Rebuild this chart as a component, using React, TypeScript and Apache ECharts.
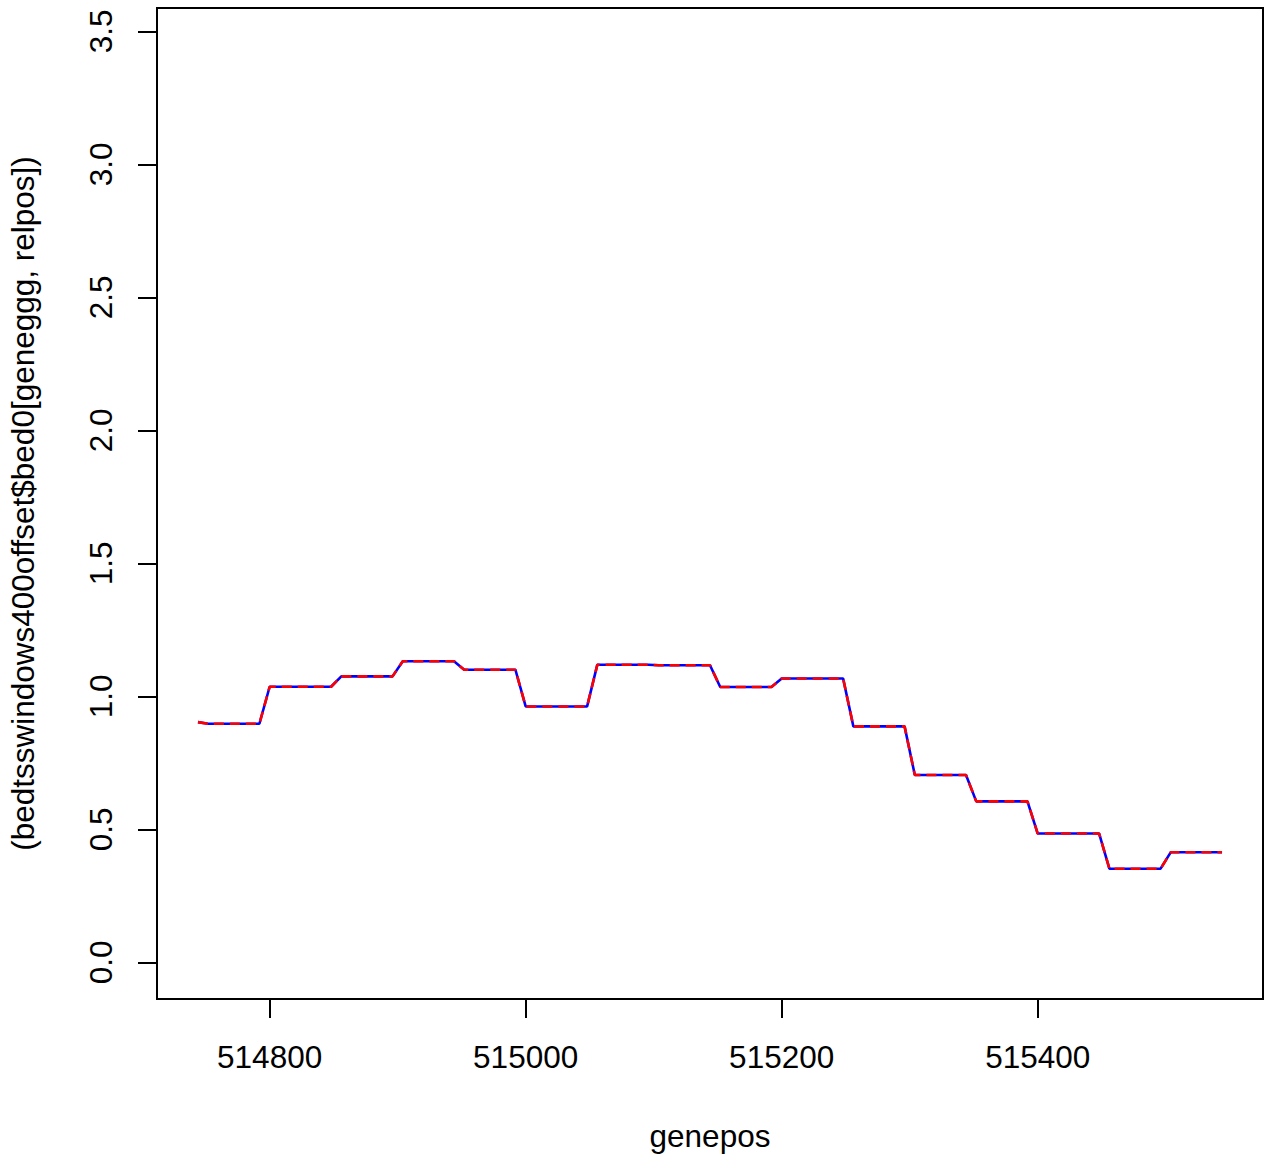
import React, { useEffect, useRef } from "react";
import * as echarts from "echarts";

const genepos = [
  514744, 514752, 514760, 514768, 514776, 514784, 514792, 514800, 514808, 514816,
  514824, 514832, 514840, 514848, 514856, 514864, 514872, 514880, 514888, 514896,
  514904, 514912, 514920, 514928, 514936, 514944, 514952, 514960, 514968, 514976,
  514984, 514992, 515000, 515008, 515016, 515024, 515032, 515040, 515048, 515056,
  515064, 515072, 515080, 515088, 515096, 515104, 515112, 515120, 515128, 515136,
  515144, 515152, 515160, 515168, 515176, 515184, 515192, 515200, 515208, 515216,
  515224, 515232, 515240, 515248, 515256, 515264, 515272, 515280, 515288, 515296,
  515304, 515312, 515320, 515328, 515336, 515344, 515352, 515360, 515368, 515376,
  515384, 515392, 515400, 515408, 515416, 515424, 515432, 515440, 515448, 515456,
  515464, 515472, 515480, 515488, 515496, 515504, 515512, 515520, 515528, 515536,
  515544,
];

const relValues = [
  0.903,
  0.897, 0.897, 0.897, 0.897, 0.897, 0.897,
  1.036, 1.036, 1.036, 1.036, 1.036, 1.036, 1.036,
  1.075, 1.075, 1.075, 1.075, 1.075, 1.075,
  1.132, 1.132, 1.132, 1.132, 1.132, 1.132,
  1.1, 1.1, 1.1, 1.1, 1.1, 1.1,
  0.962, 0.962, 0.962, 0.962, 0.962, 0.962, 0.962,
  1.119, 1.119, 1.119, 1.119, 1.119, 1.119,
  1.117, 1.117, 1.117, 1.117, 1.117, 1.117,
  1.035, 1.035, 1.035, 1.035, 1.035, 1.035,
  1.067, 1.067, 1.067, 1.067, 1.067, 1.067, 1.067,
  0.887, 0.887, 0.887, 0.887, 0.887, 0.887,
  0.704, 0.704, 0.704, 0.704, 0.704, 0.704,
  0.605, 0.605, 0.605, 0.605, 0.605, 0.605,
  0.484, 0.484, 0.484, 0.484, 0.484, 0.484, 0.484,
  0.352, 0.352, 0.352, 0.352, 0.352, 0.352,
  0.414, 0.414, 0.414, 0.414, 0.414, 0.414,
];

const xTicks = [514800, 515000, 515200, 515400];
const yTicks = [0, 0.5, 1, 1.5, 2, 2.5, 3, 3.5];
const xLimits = [514712, 515576];
const yLimits = [-0.138, 3.588];

const xTitle = "genepos";
const yTitle = "(bedtsswindows400offset$bed0[geneggg, relpos])";

const FONT = "'Liberation Sans', Arial, Helvetica, sans-serif";
const FS = 31.5;

export default function App() {
  const ref = useRef<HTMLDivElement>(null);

  useEffect(() => {
    if (!ref.current) return;
    const chart = echarts.init(ref.current, null, { renderer: "svg" });
    const data = genepos.map((x, i) => [x, relValues[i]]);
    chart.setOption({
      animation: false,
      backgroundColor: "#ffffff",
      grid: {
        left: 157,
        top: 8,
        width: 1106,
        height: 991,
        show: true,
        borderColor: "#000000",
        borderWidth: 2,
        backgroundColor: "transparent",
      },
      xAxis: {
        type: "value",
        min: xLimits[0],
        max: xLimits[1],
        axisLine: { show: false, onZero: false },
        splitLine: { show: false },
        axisTick: {
          show: true,
          inside: false,
          length: 19,
          customValues: xTicks,
          lineStyle: { color: "#000", width: 2 },
        },
        axisLabel: {
          show: true,
          customValues: xTicks,
          margin: 42,
          fontSize: FS,
          fontFamily: FONT,
          color: "#000",
          formatter: (v: number) => String(v),
        },
      },
      yAxis: {
        type: "value",
        min: yLimits[0],
        max: yLimits[1],
        axisLine: { show: false, onZero: false },
        splitLine: { show: false },
        axisTick: {
          show: true,
          inside: false,
          length: 19,
          customValues: yTicks,
          lineStyle: { color: "#000", width: 2 },
        },
        axisLabel: {
          show: true,
          customValues: yTicks,
          rotate: 90,
          margin: 40,
          fontSize: FS,
          fontFamily: FONT,
          color: "#000",
          formatter: (v: number) => v.toFixed(1),
        },
      },
      graphic: [
        {
          type: "text",
          x: 710,
          y: 1136,
          style: {
            text: xTitle,
            fontSize: FS,
            fontFamily: FONT,
            fill: "#000",
            align: "center",
            verticalAlign: "middle",
          },
        },
        {
          type: "text",
          x: 23,
          y: 503.5,
          rotation: Math.PI / 2,
          style: {
            text: yTitle,
            fontSize: FS,
            fontFamily: FONT,
            fill: "#000",
            align: "center",
            verticalAlign: "middle",
          },
        },
      ],
      series: [
        {
          type: "line",
          data,
          showSymbol: false,
          symbol: "none",
          lineStyle: { color: "#0000ff", width: 2.6 },
          silent: true,
        },
        {
          type: "line",
          data,
          showSymbol: false,
          symbol: "none",
          lineStyle: { color: "#ff0000", width: 2.6, type: [10, 6] },
          silent: true,
        },
      ],
    });
    return () => chart.dispose();
  }, []);

  return (
    <div
      ref={ref}
      style={{ position: "absolute", left: 0, top: 0, width: 1272, height: 1154 }}
    />
  );
}
